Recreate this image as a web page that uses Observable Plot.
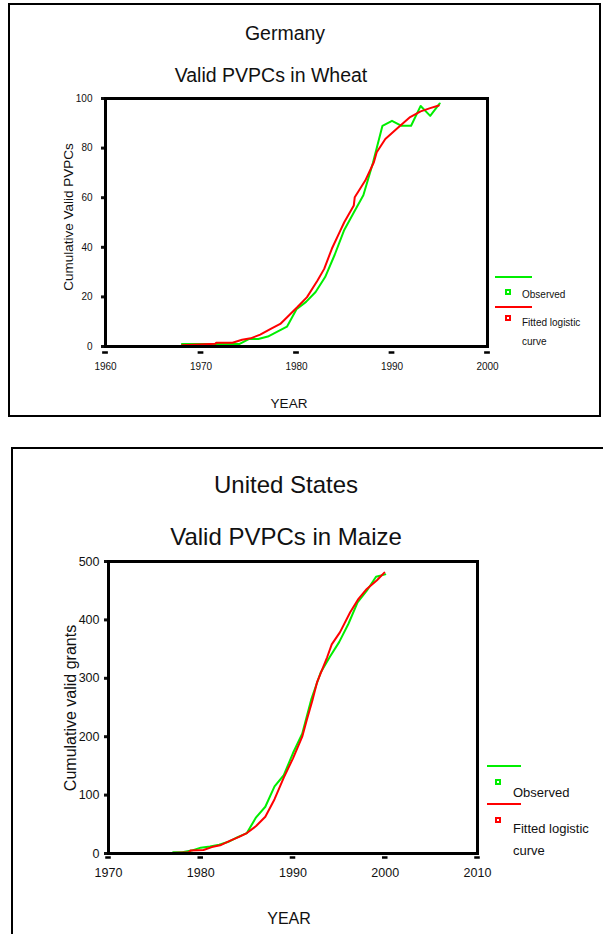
<!DOCTYPE html>
<html><head><meta charset="utf-8">
<script src="https://cdn.jsdelivr.net/npm/d3@7"></script>
<script src="https://cdn.jsdelivr.net/npm/@observablehq/plot@0.6"></script>
<style>
html,body{margin:0;padding:0;background:#fff;}
#page{position:relative;width:603px;height:934px;overflow:hidden;font-family:"Liberation Sans",Arial,sans-serif;color:#111;}
.t{position:absolute;white-space:nowrap;line-height:1;}
.c{transform:translate(-50%,-50%);}
.l{transform:translate(0,-50%);}
.rot{transform:translate(-50%,-50%) rotate(-90deg);}
.box{position:absolute;border:2px solid #000;box-sizing:border-box;}
.ln{position:absolute;height:2px;}
.sq{position:absolute;width:6px;height:6px;box-sizing:border-box;border:2px solid;transform:translate(-50%,-50%);}
.plot{position:absolute;left:0;}
</style></head><body><div id="page"></div>
<script>
// ---- Germany, wheat ----
const deYears    = [1968,1969,1970,1971,1972,1973,1974,1975,1976,1977,1978,1979,1980,1981,1982,1983,1984,1985,1986,1987,1988,1989,1990,1991,1992,1993,1994,1995];
const deObserved = [1,1,1,1,1,1,1,3,3,4,6,8,15,18,22,28,37,47,54,61,74,89,91,89,89,97,93,98];
const deFitYears = [1968.0,1971.5,1971.6,1973.3,1974.3,1975.2,1976.2,1977.3,1978.3,1979.2,1980.1,1981.1,1982.2,1982.9,1983.7,1984.6,1985.0,1986.0,1986.1,1987.2,1988.1,1988.4,1989.3,1990.5,1991.9,1993.0,1994.0,1994.9];
const deFitted   = [0.5,1.1,1.5,1.5,2.7,3.3,4.8,7.1,9.1,12.5,15.9,19.9,26.6,31.3,39.4,46.8,50.1,56.9,60.2,66.9,74.3,78.3,83.7,87.8,92.5,94.8,96.1,97.2];
const deXTicks = [1960,1970,1980,1990,2000];
const deYTicks = [0,20,40,60,80,100];

// ---- United States, maize ----
const usYears    = [1977,1978,1979,1980,1981,1982,1983,1984,1985,1986,1987,1988,1989,1990,1991,1992,1993,1994,1995,1996,1997,1998,1999,2000];
const usObserved = [2,2,5,10,12,15,20,28,35,62,80,115,134,172,205,265,310,337,362,393,430,450,474,478];
const usFitYears = [1976.9,1978.7,1978.9,1980.3,1981.2,1982.1,1983.2,1984.1,1985.0,1986.0,1987.0,1988.0,1989.0,1990.0,1991.0,1991.5,1992.1,1992.6,1993.7,1994.2,1995.1,1996.2,1997.1,1998.0,1999.1,1999.9];
const usFitted   = [1,2,5,6,11,14,22,28,35,47,63,93,130,163,200,229,262,293,336,358,379,413,436,453,468,481];
const usXTicks = [1970,1980,1990,2000,2010];
const usYTicks = [0,100,200,300,400,500];

const GREEN = "#00ee00", RED = "#ff0000";
const page = document.getElementById("page");

function el(cls, style, text) {
  const d = document.createElement("div");
  d.className = cls;
  Object.assign(d.style, style);
  if (text != null) d.textContent = text;
  page.appendChild(d);
  return d;
}

function panel(o) {
  const obs = o.years.map((x, i) => ({x, y: o.obs[i]}));
  const fit = o.fitYears.map((x, i) => ({x, y: o.fit[i]}));
  const chart = Plot.plot({
    width: o.width, height: o.height,
    marginLeft: o.mL, marginRight: o.mR, marginTop: o.mT, marginBottom: o.mB,
    style: {fontFamily: '"Liberation Sans", Arial, sans-serif', background: "transparent", overflow: "visible", color: "#111"},
    x: {domain: o.xDomain},
    y: {domain: o.yDomain},
    marks: [
      Plot.axisY(o.yTicks, {tickSize: 4, strokeWidth: 3, tickPadding: o.yPad, fontSize: o.tickFont, label: null, tickFormat: d => String(d)}),
      Plot.axisX(o.xTicks, {tickSize: 0, tickPadding: o.xPad, fontSize: o.tickFont, label: null, tickFormat: d => String(d)}),
      Plot.ruleY(o.xTicks, {y: () => o.yDomain[0], x1: d => d - 0.3, x2: d => d + 0.3, dy: o.dashDy, stroke: "#000", strokeWidth: 2.5}),
      Plot.line(obs, {x: "x", y: "y", stroke: GREEN, strokeWidth: 2}),
      Plot.line(fit, {x: "x", y: "y", stroke: RED, strokeWidth: 2}),
      Plot.frame({stroke: "#000", strokeWidth: 3})
    ]
  });
  chart.classList.add("plot");
  chart.style.top = o.top + "px";
  page.appendChild(chart);
}

// Top panel
el("box", {left: "8px", top: "3px", width: "593px", height: "414px"});
el("t c", {left: "285px", top: "34px", fontSize: "19.5px"}, "Germany");
el("t c", {left: "271px", top: "76px", fontSize: "19.5px"}, "Valid PVPCs in Wheat");
el("t rot", {left: "69px", top: "217px", fontSize: "13.5px"}, "Cumulative Valid PVPCs");
el("t c", {left: "289px", top: "404px", fontSize: "13.5px"}, "YEAR");
panel({top: 90, width: 495, height: 290, mL: 105, mR: 8, mT: 8, mB: 34,
  xDomain: [1960, 2000], yDomain: [0, 100], xTicks: deXTicks, yTicks: deYTicks,
  years: deYears, obs: deObserved, fitYears: deFitYears, fit: deFitted,
  tickFont: 10, yPad: 9, xPad: 16, dashDy: 6});
el("ln", {left: "495px", top: "276px", width: "37px", background: GREEN});
el("sq", {left: "508px", top: "292px", borderColor: GREEN});
el("t l", {left: "522px", top: "295px", fontSize: "10px"}, "Observed");
el("ln", {left: "495px", top: "306px", width: "37px", background: RED});
el("sq", {left: "508px", top: "318px", borderColor: RED});
el("t l", {left: "522px", top: "323px", fontSize: "10px"}, "Fitted logistic");
el("t l", {left: "522px", top: "342px", fontSize: "10px"}, "curve");

// Bottom panel
el("box", {left: "11px", top: "447px", width: "640px", height: "540px"});
el("t c", {left: "286px", top: "485px", fontSize: "24px"}, "United States");
el("t c", {left: "286px", top: "537px", fontSize: "24px"}, "Valid PVPCs in Maize");
el("t rot", {left: "71px", top: "708px", fontSize: "16px"}, "Cumulative valid grants");
el("t c", {left: "289px", top: "919px", fontSize: "16px"}, "YEAR");
panel({top: 550, width: 490, height: 330, mL: 108, mR: 13, mT: 11, mB: 27,
  xDomain: [1970, 2010], yDomain: [0, 500], xTicks: usXTicks, yTicks: usYTicks,
  years: usYears, obs: usObserved, fitYears: usFitYears, fit: usFitted,
  tickFont: 12.5, yPad: 5, xPad: 15, dashDy: 4});
el("ln", {left: "487px", top: "765px", width: "34px", background: GREEN});
el("sq", {left: "498px", top: "782px", borderColor: GREEN});
el("t l", {left: "513px", top: "792px", fontSize: "13px"}, "Observed");
el("ln", {left: "487px", top: "803px", width: "34px", background: RED});
el("sq", {left: "498px", top: "820px", borderColor: RED});
el("t l", {left: "513px", top: "828px", fontSize: "13px"}, "Fitted logistic");
el("t l", {left: "513px", top: "850px", fontSize: "13px"}, "curve");
</script>
</body></html>
